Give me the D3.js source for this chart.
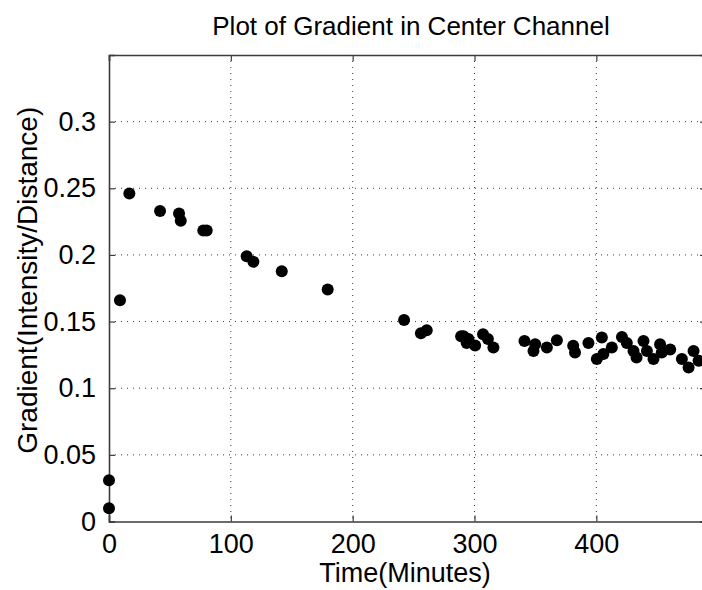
<!DOCTYPE html>
<html>
<head>
<meta charset="utf-8">
<script src="https://cdn.jsdelivr.net/npm/d3@7"></script>
<style>
  html, body { margin: 0; padding: 0; background: #fff; }
  svg { display: block; }
  text { font-family: "Liberation Sans", Arial, Helvetica, sans-serif; fill: #000; }
</style>
</head>
<body>
<svg id="chart" width="702" height="590"></svg>
<script>
// ---- data ----
const timeMinutes = [0, 0, 9, 16.7, 41.9, 57.5, 58.9, 77.4, 80.2, 113, 118.5, 141.8, 179.5,
  242.2, 256, 260.8, 289, 291, 293.6, 295, 300.5, 307, 311, 315.5,
  341, 348.4, 349.8, 359.4, 367.6, 381, 382.5, 393.5, 400.4, 404.5, 405.8, 412.7,
  421, 425, 430.5, 433, 438.7, 441.5, 446.9, 452.3, 453.7, 460.6, 470.2, 475.7, 479.8, 483.9];
const gradient = [0.010, 0.031, 0.166, 0.246, 0.233, 0.231, 0.2257, 0.2184, 0.2184, 0.199, 0.1948, 0.1878, 0.174,
  0.1512, 0.1413, 0.1435, 0.139, 0.139, 0.134, 0.137, 0.132, 0.1405, 0.137, 0.1305,
  0.1355, 0.128, 0.133, 0.1305, 0.136, 0.1318, 0.1268, 0.134, 0.1219, 0.138, 0.1256, 0.1305,
  0.1385, 0.134, 0.128, 0.123, 0.1355, 0.128, 0.1219, 0.133, 0.1268, 0.129, 0.1219, 0.1156, 0.128, 0.1206];
const xTicks = [0, 100, 200, 300, 400];
const yTicks = [0, 0.05, 0.1, 0.15, 0.2, 0.25, 0.3];
const titleText = "Plot of Gradient in Center Channel";
const xLabelText = "Time(Minutes)";
const yLabelText = "Gradient(Intensity/Distance)";

// ---- layout ----
const svg = d3.select("#chart");
const L = 109, T = 55, B = 521.5, R = 706;
const x = d3.scaleLinear().domain([0, 490]).range([L, R]);
const y = d3.scaleLinear().domain([0, 0.35]).range([B, T]);

const gridColor = "#3a3a3a";
const axisColor = "#3c3c3c";

// grid
svg.append("g").selectAll("line").data(xTicks.filter(d => d > 0)).join("line")
  .attr("x1", d => x(d)).attr("x2", d => x(d)).attr("y1", T).attr("y2", B)
  .attr("stroke", gridColor).attr("stroke-width", 1).attr("stroke-dasharray", "1,5");
svg.append("g").selectAll("line").data(yTicks.filter(d => d > 0)).join("line")
  .attr("x1", L).attr("x2", R).attr("y1", d => y(d)).attr("y2", d => y(d))
  .attr("stroke", gridColor).attr("stroke-width", 1).attr("stroke-dasharray", "1,5");

// axes with inward ticks
const xAxisB = d3.axisBottom(x).tickValues(xTicks).tickSize(-6).tickPadding(12).tickFormat(d3.format("d"));
const xAxisT = d3.axisTop(x).tickValues(xTicks).tickSize(-6).tickFormat("");
const yAxisL = d3.axisLeft(y).tickValues(yTicks).tickSize(-6).tickPadding(13).tickFormat(d => d === 0 ? "0" : String(d));
const yAxisR = d3.axisRight(y).tickValues(yTicks).tickSize(-6).tickFormat("");

function styleAxis(g) {
  g.select(".domain").attr("stroke", axisColor).attr("stroke-width", 1.6);
  g.selectAll(".tick line").attr("stroke", axisColor).attr("stroke-width", 1.2);
  g.selectAll(".tick text").attr("fill", "#000")
    .style("font-family", "'Liberation Sans', Arial, sans-serif").style("font-size", "27px");
}
svg.append("g").attr("transform", `translate(0,${B})`).call(xAxisB).call(styleAxis)
  .call(g => g.selectAll(".tick text").attr("dy", "0.71em"));
svg.append("g").attr("transform", `translate(0,${T})`).call(xAxisT).call(styleAxis);
svg.append("g").attr("transform", `translate(${L},0)`).call(yAxisL).call(styleAxis);
svg.append("g").attr("transform", `translate(${R},0)`).call(yAxisR).call(styleAxis);

// points
const pts = timeMinutes.map((t, i) => ({ t, g: gradient[i] }));
svg.append("g").selectAll("circle").data(pts).join("circle")
  .attr("cx", d => x(d.t)).attr("cy", d => y(d.g)).attr("r", 6).attr("fill", "#000");

// labels
svg.append("text").attr("x", 411).attr("y", 35).attr("text-anchor", "middle")
  .style("font-size", "26px").text(titleText);
svg.append("text").attr("x", 405).attr("y", 582).attr("text-anchor", "middle")
  .style("font-size", "27px").text(xLabelText);
svg.append("text").attr("transform", `translate(37,${(T + B) / 2 - 8}) rotate(-90)`)
  .attr("text-anchor", "middle").style("font-size", "28px").text(yLabelText);
</script>
</body>
</html>
